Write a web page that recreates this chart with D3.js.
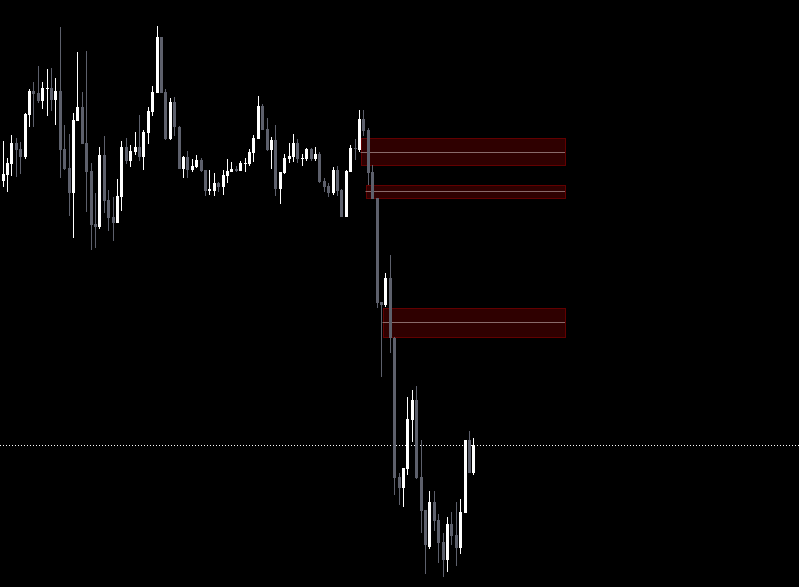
<!DOCTYPE html>
<html>
<head>
<meta charset="utf-8">
<script src="https://cdn.jsdelivr.net/npm/d3@7"></script>
<style>
    html, body { margin: 0; padding: 0; background: #000; overflow: hidden; }
    svg { display: block; }
</style>
</head>
<body>
<div id="chart"></div>
<script>
// OHLC (arbitrary price units)
const opens = [419, 425, 436, 457, 451, 443, 485, 509, 507, 499, 511, 512, 500, 509, 451, 432, 407, 479, 493, 457,
    429, 376, 373, 445, 400, 383, 377, 403, 453, 439, 448, 453, 443, 467, 488, 507, 563, 508, 461, 498,
    473, 431, 443, 430, 433, 440, 430, 409, 409, 417, 413, 424, 428, 431, 429, 436, 436, 447, 461, 494,
    471, 450, 460, 411, 427, 441, 443, 457, 441, 441, 451, 441, 446, 419, 414, 407, 430, 410, 383, 428,
    452, 450, 481, 470, 428, 402, 298, 295, 322, 262, 123, 112, 131, 180, 200, 123, 90, 53, 98, 80,
    58, 40, 76, 65, 52, 87, 160, 127];
const highs = [459, 442, 465, 462, 458, 487, 511, 518, 534, 518, 531, 532, 522, 573, 475, 466, 487, 548, 508, 549,
    437, 407, 453, 464, 410, 403, 421, 459, 462, 455, 468, 485, 470, 493, 514, 574, 563, 511, 502, 503,
    474, 444, 449, 441, 445, 442, 430, 430, 427, 418, 430, 441, 438, 434, 439, 442, 451, 465, 504, 496,
    482, 463, 475, 428, 446, 457, 466, 461, 446, 452, 452, 453, 448, 422, 417, 433, 434, 411, 430, 455,
    461, 490, 490, 472, 435, 402, 298, 327, 345, 263, 127, 132, 203, 210, 214, 160, 90, 109, 109, 86,
    67, 83, 88, 98, 101, 160, 169, 162];
const lows = [413, 408, 424, 423, 426, 441, 473, 473, 497, 491, 484, 489, 475, 422, 430, 384, 362, 479, 456, 388,
    350, 352, 371, 387, 369, 359, 377, 389, 436, 433, 445, 439, 430, 456, 484, 507, 507, 460, 460, 464,
    431, 422, 422, 428, 432, 428, 404, 405, 404, 408, 405, 417, 428, 428, 429, 428, 434, 438, 461, 470,
    449, 431, 404, 396, 426, 437, 438, 437, 434, 439, 439, 439, 417, 408, 403, 405, 404, 383, 383, 428,
    440, 448, 464, 415, 401, 292, 223, 293, 247, 105, 95, 93, 125, 158, 121, 67, 26, 51, 69, 37,
    23, 28, 55, 34, 46, 87, 127, 125];
const closes = [426, 437, 457, 450, 443, 486, 509, 506, 499, 512, 512, 500, 509, 450, 431, 407, 480, 493, 456, 428,
    375, 373, 445, 399, 382, 377, 404, 453, 439, 449, 453, 443, 468, 489, 508, 563, 507, 461, 498, 473,
    431, 443, 430, 434, 440, 429, 409, 411, 417, 413, 425, 429, 431, 429, 437, 437, 448, 462, 494, 470,
    450, 460, 411, 428, 442, 444, 457, 441, 442, 451, 441, 446, 418, 413, 407, 430, 409, 383, 429, 452,
    451, 481, 469, 427, 401, 297, 295, 322, 262, 122, 112, 132, 181, 200, 122, 89, 55, 98, 79, 57,
    40, 76, 64, 52, 88, 160, 127, 155];

// supply / demand zones: starting candle, top, bottom, middle line
const zoneStart = [82, 83, 87];
const zoneEnd = [128, 128, 128];
const zoneTop = [462, 415, 292];
const zoneBottom = [435, 402, 263.3];
const zoneMid = [448.3, 408.7, 277.7];

const width = 799;
const height = 587;

const candles = opens.map((o, i) => ({
    i: i,
    open: o,
    high: highs[i],
    low: lows[i],
    close: closes[i]
}));

const zones = zoneStart.map((s, i) => ({
    start: s,
    end: zoneEnd[i],
    top: zoneTop[i],
    bottom: zoneBottom[i],
    mid: zoneMid[i]
}));

const svg = d3.select('#chart').append('svg')
    .attr('width', width)
    .attr('height', height)
    .style('background', '#000');

// candle index -> x, price -> y
const xScale = d3.scaleLinear()
    .domain([0, candles.length - 1])
    .range([2.7, 473.3]);

const yScale = d3.scaleLinear()
    .domain([0, 600])
    .range([600, 0]);

const bullColor = '#ffffff';
const bearColor = '#5d606c';

// Zones go behind the candles
const zoneGroup = svg.append('g').attr('class', 'zones');

const zoneX = d => Math.round(xScale(d.start) - 1) - 0.5;

zoneGroup.selectAll('rect')
    .data(zones)
    .join('rect')
    .attr('x', zoneX)
    .attr('y', d => Math.round(yScale(d.top)) + 0.5)
    .attr('width', d => Math.round(xScale(d.end)) - 0.5 - zoneX(d))
    .attr('height', d => Math.round(yScale(d.bottom)) - Math.round(yScale(d.top)))
    .attr('fill', '#2f0000')
    .attr('stroke', '#620000')
    .attr('stroke-width', 1);

zoneGroup.selectAll('line')
    .data(zones)
    .join('line')
    .attr('x1', d => zoneX(d) - 1)
    .attr('x2', d => Math.round(xScale(d.end)) - 1)
    .attr('y1', d => Math.round(yScale(d.mid)) + 0.5)
    .attr('y2', d => Math.round(yScale(d.mid)) + 0.5)
    .attr('stroke', '#8a6a6a')
    .attr('stroke-width', 1);

// Dotted line at the last close (drawn under the candles)
const lastClose = closes[closes.length - 1];
svg.append('line')
    .attr('x1', 0)
    .attr('x2', width)
    .attr('y1', Math.round(yScale(lastClose)) + 0.5)
    .attr('y2', Math.round(yScale(lastClose)) + 0.5)
    .attr('stroke', '#ffffff')
    .attr('stroke-width', 1)
    .attr('stroke-dasharray', '1,2');

// Candles
const candleGroup = svg.append('g').attr('class', 'candles');

const c = candleGroup.selectAll('g')
    .data(candles)
    .join('g');

c.append('line')
    .attr('x1', d => Math.round(xScale(d.i)) + 0.5)
    .attr('x2', d => Math.round(xScale(d.i)) + 0.5)
    .attr('y1', d => Math.round(yScale(d.high)))
    .attr('y2', d => Math.round(yScale(d.low)))
    .attr('stroke', d => d.close >= d.open ? bullColor : bearColor)
    .attr('stroke-width', 1);

c.append('rect')
    .attr('x', d => Math.round(xScale(d.i)) - 1)
    .attr('y', d => Math.round(yScale(Math.max(d.open, d.close))))
    .attr('width', 3)
    .attr('height', d => Math.max(1, Math.round(Math.abs(d.open - d.close))))
    .attr('fill', d => d.close >= d.open ? bullColor : bearColor)
    .attr('shape-rendering', 'crispEdges');
</script>
</body>
</html>
